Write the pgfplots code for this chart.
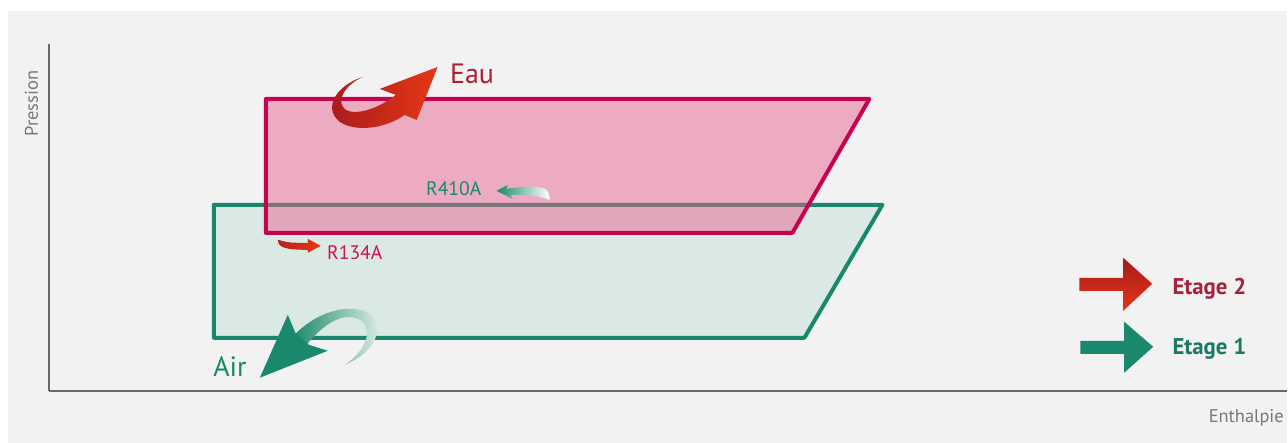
\documentclass[border=0pt]{standalone}
\usepackage{pgfplots}
\pgfplotsset{compat=1.18}
\usepackage{fontspec}
\setmainfont{PT Sans}
\definecolor{bg}{RGB}{242,242,242}
\definecolor{axisgray}{RGB}{105,105,105}
\definecolor{labgray}{RGB}{120,120,120}
\definecolor{greenline}{RGB}{25,135,108}
\definecolor{greenfill}{RGB}{219,233,228}
\definecolor{pinkline}{RGB}{200,0,80}
\definecolor{pinkfill}{RGB}{230,95,140}
\definecolor{eautext}{RGB}{170,30,55}
\definecolor{r134text}{RGB}{200,20,85}
\definecolor{greentext}{RGB}{26,135,110}
\definecolor{etage2}{RGB}{166,33,60}
\definecolor{etage1}{RGB}{26,120,100}
\definecolor{reddark}{RGB}{165,25,30}
\definecolor{redbright}{RGB}{230,55,20}
\definecolor{arrgreen}{RGB}{26,136,108}
\definecolor{arrlight}{RGB}{228,240,235}
\begin{document}
\begin{tikzpicture}
\begin{scope}[x=0.5pt,y=-0.5pt,shift={(-24.5pt,195.5pt)}]
\path[use as bounding box] (0,0) rectangle (1288,443);
\fill[white] (0,0) rectangle (1288,443);
\fill[bg] (8,11) rectangle (1288,443);
\end{scope}
\begin{axis}[
  at={(0,0)}, anchor=south west,
  scale only axis, width=619.5pt, height=173.5pt,
  xmin=0, xmax=1239, ymin=0, ymax=347,
  axis lines*=left,
  axis line style={draw=axisgray, line width=0.9pt, -},
  xtick=\empty, ytick=\empty,
  clip=false]
\addplot[fill=greenfill, draw=greenline, line width=2pt, line join=round]
  coordinates {(165,186) (834,186) (756,53) (165,53)} -- cycle;
\addplot[fill=pinkfill, fill opacity=0.48, draw=pinkline, line width=2pt, line join=round]
  coordinates {(217,292) (821,292) (744,158) (217,158)} -- cycle;
\end{axis}
\begin{scope}[x=0.5pt,y=-0.5pt,shift={(-24.5pt,195.5pt)}]
% Eau arrow
\shade[left color=reddark, right color=redbright]
  (363,77) .. controls (338,85) and (322,107) .. (340,122)
  .. controls (357,133) and (387,128) .. (405,115) -- (417,120) -- (438,67) -- (380,89) -- (396,95)
  .. controls (380,108) and (357,116) .. (346,110)
  .. controls (335,102) and (345,85) .. (363,77) -- cycle;
% Air arrow body
\shade[left color=arrgreen, right color=arrlight]
  (292,338)
  .. controls (315,312) and (350,302) .. (370,314)
  .. controls (385,325) and (378,352) .. (345,365)
  .. controls (365,352) and (375,330) .. (360,320)
  .. controls (345,312) and (325,322) .. (306,346) -- cycle;
% Air arrow head
\fill[arrgreen] (260,378) -- (288,315) -- (296,334) -- (309,345) -- (328,351) -- cycle;
% R410A arrow
\shade[left color=arrgreen, right color=white]
  (497,191) -- (508,185) -- (507,189)
  .. controls (525,186) and (542,186) .. (547,190)
  .. controls (550,194) and (550,198) .. (550,200)
  .. controls (540,196) and (525,195) .. (511,195) -- (513,199) -- cycle;
% R134A arrow
\shade[left color=reddark!70!redbright, right color=redbright]
  (278,240) .. controls (290,243) .. (308,243) -- (308,239) -- (321,246) -- (308,253) -- (308,250)
  .. controls (292,250) and (282,249) .. (279,244) -- cycle;
% legend arrows
\shade[top color=reddark, bottom color=redbright]
  (1080,278) -- (1124,278) -- (1124,258) -- (1153,284) -- (1124,311) -- (1124,291) -- (1080,291) -- cycle;
\fill[arrgreen]
  (1081,341) -- (1125,341) -- (1125,322) -- (1154,347) -- (1125,373) -- (1125,354) -- (1081,354) -- cycle;
% texts
\node[anchor=base west, inner sep=0pt, text=eautext, font=\fontsize{14}{16}\selectfont] at (450,84) {Eau};
\node[anchor=base west, inner sep=0pt, text=greentext, font=\fontsize{14}{16}\selectfont] at (213,377) {Air};
\node[anchor=base west, inner sep=0pt, text=greentext, font=\fontsize{9.8}{11}\selectfont] at (426,196) {R410A};
\node[anchor=base west, inner sep=0pt, text=r134text, font=\fontsize{9.8}{11}\selectfont] at (327,260) {R134A};
\node[anchor=base west, inner sep=0pt, text=etage2, font=\fontsize{11.4}{13}\selectfont\bfseries] at (1173,295) {Etage 2};
\node[anchor=base west, inner sep=0pt, text=etage1, font=\fontsize{11.4}{13}\selectfont\bfseries] at (1173,355) {Etage 1};
\node[anchor=base east, inner sep=0pt, text=labgray, font=\fontsize{9.2}{11}\selectfont] at (1285,423) {Enthalpie};
\node[anchor=base west, inner sep=0pt, rotate=90, text=labgray, font=\fontsize{9.2}{11}\selectfont] at (38,137) {Pression};
\end{scope}
\end{tikzpicture}
\end{document}
